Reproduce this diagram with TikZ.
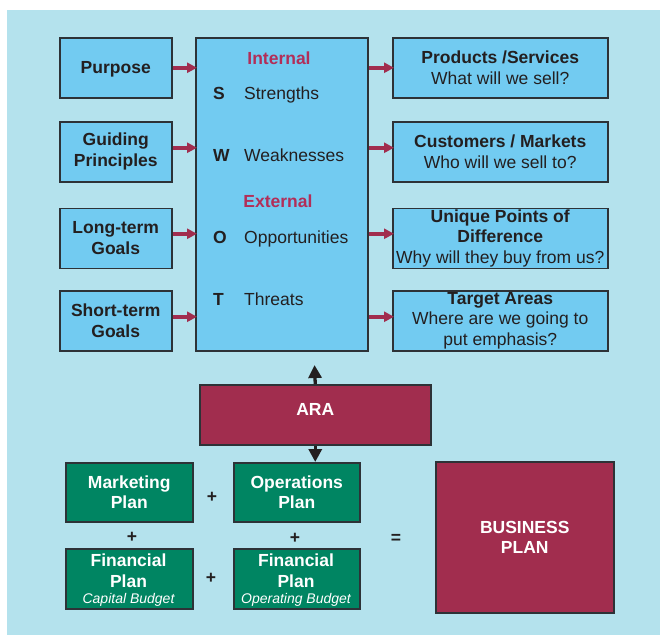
\documentclass[tikz,border=0pt]{standalone}
\usepackage{fontspec}
\setmainfont{Liberation Sans}
\usetikzlibrary{arrows.meta,calc}
\definecolor{bgblue}{RGB}{180,226,237}
\definecolor{boxblue}{RGB}{114,203,241}
\definecolor{maroonfill}{RGB}{161,45,78}
\definecolor{plangreen}{RGB}{0,133,98}
\definecolor{swotred}{RGB}{178,46,88}
\definecolor{ink}{RGB}{35,31,32}
\definecolor{edgecol}{RGB}{45,50,55}
\newcommand{\dgfont}{\fontsize{17.5}{20.7}\selectfont}
\newcommand{\dgsmall}{\fontsize{14}{16}\selectfont}
\begin{document}
\begin{tikzpicture}[x=1pt,y=-1pt,
  every node/.style={font=\dgfont, text=ink},
  bluebox/.style={draw=edgecol, line width=1.5pt, fill=boxblue, inner sep=0pt, align=center, anchor=north west},
  greenbox/.style={draw=edgecol, line width=1.5pt, fill=plangreen, inner sep=0pt, align=center, anchor=north west, text=white, font=\dgfont\bfseries},
  maroonbox/.style={draw=edgecol, line width=1.5pt, fill=maroonfill, inner sep=0pt, align=center, anchor=north west, text=white, font=\dgfont\bfseries},
  plaintext/.style={inner sep=0pt},
  redarrow/.style={draw=maroonfill, line width=3.5pt, -{Triangle[length=10pt,width=10pt]}, shorten >=-2pt},
  blackarrow/.style={draw=ink, line width=3.3pt, -{Triangle[length=13pt,width=13pt]}},
  symb/.style={inner sep=0pt, font=\dgfont\bfseries, text=ink}
]
\useasboundingbox (0,0) rectangle (660,635);
\fill[bgblue] (7,10) rectangle (660,635);

% left column
\node[bluebox, minimum width=112pt, minimum height=60pt, font=\dgfont\bfseries, text depth=0pt] (purpose) at (59,37) {Purpose};
\node[bluebox, minimum width=112pt, minimum height=60pt, font=\dgfont\bfseries] (guiding) at (59,121) {Guiding\\Principles};
\node[bluebox, minimum width=112pt, minimum height=60pt, font=\dgfont\bfseries] (longterm) at (59,207.5) {Long-term\\Goals};
\node[bluebox, minimum width=112pt, minimum height=60pt, font=\dgfont\bfseries] (shortterm) at (59,290) {Short-term\\Goals};

% SWOT
\node[bluebox, minimum width=172pt, minimum height=313pt] (swot) at (195,37) {};
\node[plaintext, anchor=base, text=swotred, font=\dgfont\bfseries] (internal) at (279,64.6) {Internal};
\node[plaintext, anchor=base, text=swotred, font=\dgfont\bfseries] (external) at (278,207.3) {External};
\node[plaintext, anchor=base west, font=\dgfont\bfseries] (ls) at (213,99) {S};
\node[plaintext, anchor=base west, font=\dgfont\bfseries] (lw) at (213,161.3) {W};
\node[plaintext, anchor=base west, font=\dgfont\bfseries] (lo) at (213,243.6) {O};
\node[plaintext, anchor=base west, font=\dgfont\bfseries] (lt) at (213,305.3) {T};
\node[plaintext, anchor=base west] (ws) at (244,99) {Strengths};
\node[plaintext, anchor=base west] (ww) at (244,161.3) {Weaknesses};
\node[plaintext, anchor=base west] (wo) at (244,243.6) {Opportunities};
\node[plaintext, anchor=base west] (wt) at (244,305.3) {Threats};

% right column
\node[bluebox, minimum width=215pt, minimum height=60pt] (products) at (392,37) {\textbf{Products /Services}\\What will we sell?};
\node[bluebox, minimum width=215pt, minimum height=60pt] (customers) at (392,121) {\textbf{Customers / Markets}\\Who will we sell to?};
\node[bluebox, minimum width=215pt, minimum height=60pt] (unique) at (392,207.5) {\textbf{Unique Points of}\\\textbf{Difference}\\Why will they buy from us?};
\node[bluebox, minimum width=215pt, minimum height=60pt] (target) at (392,290) {\textbf{Target Areas}\\Where are we going to\\put emphasis?};

% red arrows
\draw[redarrow] (purpose.east) -- (purpose.east -| swot.west);
\draw[redarrow] ([yshift=4pt]guiding.east) -- ([yshift=4pt]guiding.east -| swot.west);
\draw[redarrow] ([yshift=4.5pt]longterm.east) -- ([yshift=4.5pt]longterm.east -| swot.west);
\draw[redarrow] ([yshift=4pt]shortterm.east) -- ([yshift=4pt]shortterm.east -| swot.west);
\draw[redarrow] (purpose.east -| swot.east) -- (products.west);
\draw[redarrow] ([yshift=4pt]guiding.east -| swot.east) -- ([yshift=4pt]customers.west);
\draw[redarrow] ([yshift=4.5pt]longterm.east -| swot.east) -- ([yshift=4.5pt]unique.west);
\draw[redarrow] ([yshift=4pt]shortterm.east -| swot.east) -- ([yshift=4pt]target.west);

% ARA
\node[maroonbox, minimum width=231pt, minimum height=60pt] (ara) at (199,384) {};
\node[plaintext, text=white, font=\dgfont\bfseries] (aratext) at ([yshift=5pt]ara.center) {ARA};
\coordinate (uptip) at (314.5,365);

% plans
\node[greenbox, minimum width=127pt, minimum height=59pt] (marketing) at (65,462) {Marketing\\Plan};
\node[greenbox, minimum width=126pt, minimum height=59pt] (operations) at (233,462) {Operations\\Plan};
\node[greenbox, minimum width=127pt, minimum height=60pt] (fincap) at (65,548) {};
\node[greenbox, minimum width=126pt, minimum height=60pt] (finop) at (233,548) {};
\node[plaintext, text=white, font=\dgfont\bfseries, align=center] (fincaptext) at (128.5,571) {Financial\\Plan};
\node[plaintext, text=white, font=\dgsmall\itshape] (fincapsub) at (128.5,599.5) {Capital Budget};
\node[plaintext, text=white, font=\dgfont\bfseries, align=center] (finoptext) at (296,571) {Financial\\Plan};
\node[plaintext, text=white, font=\dgsmall\itshape] (finopsub) at (296,599.5) {Operating Budget};

\node[symb] (plus1) at (212,497) {+};
\node[symb] (plus2) at (132,537) {+};
\node[symb] (plus3) at (295,538) {+};
\node[symb] (plus4) at (211,578) {+};
\node[symb] (equals) at (396,539) {=};

\node[maroonbox, minimum width=178pt, minimum height=151pt] (business) at (435,461) {BUSINESS\\PLAN};

% black arrows
\draw[blackarrow] (ara.north) -- (uptip);
\draw[blackarrow] (ara.south) -- (ara.south |- operations.north);
\end{tikzpicture}
\end{document}
